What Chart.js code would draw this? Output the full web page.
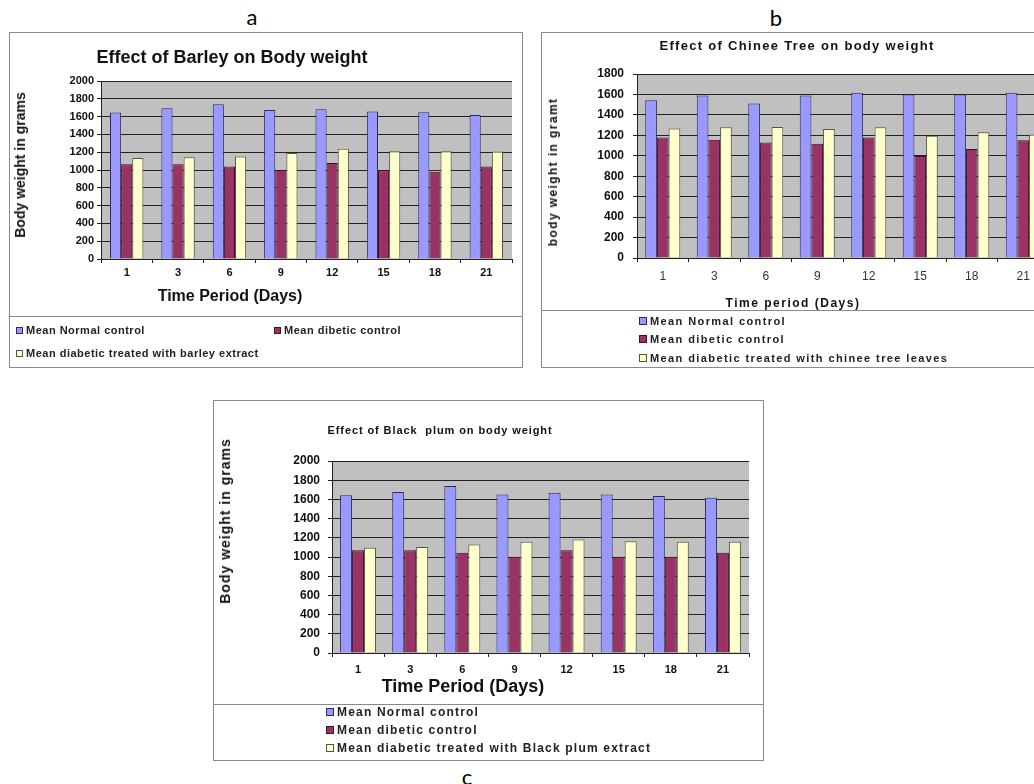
<!DOCTYPE html>
<html>
<head>
<meta charset="utf-8">
<script src="https://cdn.jsdelivr.net/npm/chart.js@4.4.1/dist/chart.umd.min.js"></script>
<style>
  html, body { margin: 0; padding: 0; background: #fff; overflow: hidden; width: 1034px; height: 784px; position: relative; font-family: "Liberation Sans", Arial, sans-serif; }
  .box { position: absolute; border: 1px solid #8a8a8a; box-sizing: border-box; }
  .sep { position: absolute; height: 0; border-top: 1px solid #8a8a8a; }
  canvas { position: absolute; }
  .t { position: absolute; white-space: pre; transform: translate(-50%, -50%); font-weight: bold; color: #111; }
  .vt { transform: translate(-50%, -50%) rotate(-90deg); }
  .panel { position: absolute; font-family: Lato, "Open Sans", sans-serif; font-size: 22px; color: #000; transform: translate(-50%, -50%); }
  .leg { position: absolute; white-space: nowrap; font-weight: bold; color: #222; display: flex; align-items: center; height: 14px; }
  .sw { display: inline-block; border: 1px solid #333; margin-right: 3px; box-sizing: border-box; }
</style>
</head>
<body>
<div class="box" style="left:9px;top:32px;width:514px;height:336px"></div>
<div class="sep" style="left:9px;top:316px;width:514px"></div>
<div class="box" style="left:541px;top:32px;width:530px;height:336px"></div>
<div class="sep" style="left:541px;top:310px;width:530px"></div>
<div class="box" style="left:213px;top:400px;width:551px;height:361px"></div>
<div class="sep" style="left:213px;top:704px;width:551px"></div>

<canvas id="chartA" width="512" height="283" style="left:10px;top:33px"></canvas>
<canvas id="chartB" width="520" height="277" style="left:542px;top:33px"></canvas>
<canvas id="chartC" width="548" height="303" style="left:214px;top:401px"></canvas>

<script>
const days = ['1', '3', '6', '9', '12', '15', '18', '21'];
const seriesColors = ['#9999ff', '#993366', '#ffffcc'];
const seriesBorders = ['#2b2b5e', '#3a1026', '#555544'];

// a: barley
const normalA = [1645, 1694, 1740, 1675, 1683, 1657, 1649, 1619];
const diabeticA = [1064, 1064, 1038, 1000, 1079, 996, 981, 1038];
const treatedA = [1136, 1143, 1151, 1192, 1238, 1211, 1211, 1208];
const namesA = ['Mean Normal control', 'Mean dibetic control', 'Mean diabetic treated with barley extract'];

// b: chinee tree
const normalB = [1544, 1590, 1511, 1590, 1616, 1600, 1600, 1616];
const diabeticB = [1180, 1157, 1131, 1118, 1180, 997, 1066, 1151];
const treatedB = [1266, 1279, 1282, 1262, 1279, 1197, 1230, 1207];
const namesB = ['Mean Normal control', 'Mean dibetic control', 'Mean diabetic treated with chinee tree leaves'];

// c: black plum
const normalC = [1642, 1677, 1739, 1652, 1670, 1652, 1635, 1617];
const diabeticC = [1071, 1071, 1043, 1002, 1071, 1002, 1002, 1043];
const treatedC = [1096, 1103, 1130, 1158, 1183, 1165, 1158, 1158];
const namesC = ['Mean Normal control', 'Mean dibetic control', 'Mean diabetic treated with Black plum extract'];

const plotBg = {
  id: 'plotBg',
  beforeDraw(chart) {
    const { ctx, chartArea: a } = chart;
    ctx.save();
    ctx.fillStyle = '#c0c0c0';
    ctx.fillRect(a.left, a.top, a.width, a.height);
    ctx.restore();
  }
};

function makeChart(id, series, names, o) {
  const datasets = series.map((data, i) => ({
    label: names[i],
    data: data,
    backgroundColor: seriesColors[i],
    borderColor: seriesBorders[i],
    borderWidth: 1,
    categoryPercentage: o.catPct,
    barPercentage: 1
  }));
  return new Chart(document.getElementById(id), {
    type: 'bar',
    data: { labels: days, datasets: datasets },
    plugins: [plotBg],
    options: {
      responsive: false,
      animation: false,
      devicePixelRatio: 1,
      layout: { padding: o.pad },
      plugins: { legend: { display: false }, tooltip: { enabled: false } },
      scales: {
        x: {
          grid: { display: true, drawOnChartArea: false, drawTicks: true, tickLength: 4, color: '#222', offset: true },
          border: { display: true, color: '#222' },
          ticks: { font: o.xFont, color: o.xColor, padding: o.xPad, maxRotation: 0, autoSkip: false },
          afterFit: s => { s.height = 30; }
        },
        y: {
          min: 0,
          max: o.yMax,
          ticks: { stepSize: 200, font: o.yFont, color: '#111', padding: o.yPad, callback: v => String(v) },
          grid: { color: '#222', tickLength: 4, drawTicks: true },
          border: { display: true, color: '#222' },
          afterFit: s => { s.width = o.yWidth; }
        }
      }
    }
  });
}

const F = 'Liberation Sans';

makeChart('chartA', [normalA, diabeticA, treatedA], namesA, {
  catPct: 0.65, yMax: 2000, yWidth: 91,
  pad: { top: 48, right: 10, bottom: 27, left: 0 },
  xFont: { family: F, size: 11, weight: 'bold' }, xColor: '#111', xPad: 3,
  yFont: { family: F, size: 11, weight: 'bold' }, yPad: 3
});

makeChart('chartB', [normalB, diabeticB, treatedB], namesB, {
  catPct: 0.68, yMax: 1800, yWidth: 95,
  pad: { top: 41, right: 13, bottom: 22, left: 0 },
  xFont: { family: F, size: 12 }, xColor: '#333', xPad: 7,
  yFont: { family: F, size: 12, weight: 'bold' }, yPad: 9
});

makeChart('chartC', [normalC, diabeticC, treatedC], namesC, {
  catPct: 0.69, yMax: 2000, yWidth: 118,
  pad: { top: 60, right: 13, bottom: 21, left: 0 },
  xFont: { family: F, size: 11, weight: 'bold' }, xColor: '#111', xPad: 6,
  yFont: { family: F, size: 12, weight: 'bold' }, yPad: 8
});

// titles and legends as plain text
function text(str, x, y, size, ls, cls) {
  const d = document.createElement('div');
  d.className = cls || 't';
  d.textContent = str;
  d.style.left = x + 'px';
  d.style.top = y + 'px';
  if (size) d.style.fontSize = size + 'px';
  if (ls) d.style.letterSpacing = ls + 'px';
  document.body.appendChild(d);
}

function legendItem(name, color, border, x, y, size, ls, sq) {
  const d = document.createElement('div');
  d.className = 'leg';
  d.style.left = x + 'px';
  d.style.top = (y - 7) + 'px';
  d.style.fontSize = size + 'px';
  d.style.letterSpacing = ls + 'px';
  const s = document.createElement('span');
  s.className = 'sw';
  s.style.width = sq + 'px';
  s.style.height = sq + 'px';
  s.style.background = color;
  s.style.borderColor = border;
  d.appendChild(s);
  d.appendChild(document.createTextNode(name));
  document.body.appendChild(d);
}

text('a', 252, 16, 0, 0, 'panel');
text('b', 776, 17, 0, 0, 'panel');
text('c', 467, 776, 0, 0, 'panel');

text('Effect of Barley on Body weight', 232, 57, 18, 0);
text('Body weight in grams', 20, 165, 14, 0, 't vt');
text('Time Period (Days)', 230, 296, 16, 0);
legendItem(namesA[0], seriesColors[0], seriesBorders[0], 16, 330, 11, 0.5, 7);
legendItem(namesA[1], seriesColors[1], seriesBorders[1], 274, 330, 11, 0.5, 7);
legendItem(namesA[2], seriesColors[2], seriesBorders[2], 16, 353, 11, 0.5, 7);

text('Effect of Chinee Tree on body weight', 797, 45, 13, 1.3);
text('body weight in gramt', 553, 172, 12, 1.4, 't vt');
text('Time period (Days)', 793, 303, 12, 1.5);
legendItem(namesB[0], seriesColors[0], seriesBorders[0], 639, 321, 11, 1.4, 8);
legendItem(namesB[1], seriesColors[1], seriesBorders[1], 639, 339, 11, 1.4, 8);
legendItem(namesB[2], seriesColors[2], seriesBorders[2], 639, 358, 11, 1.4, 8);

text('Effect of Black  plum on body weight', 440, 430, 11, 0.9);
text('Body weight in grams', 225, 521, 14, 1, 't vt');
text('Time Period (Days)', 463, 686, 18, 0);
legendItem(namesC[0], seriesColors[0], seriesBorders[0], 326, 712, 12, 1.2, 8);
legendItem(namesC[1], seriesColors[1], seriesBorders[1], 326, 730, 12, 1.2, 8);
legendItem(namesC[2], seriesColors[2], seriesBorders[2], 326, 748, 12, 1.2, 8);
</script>
</body>
</html>
